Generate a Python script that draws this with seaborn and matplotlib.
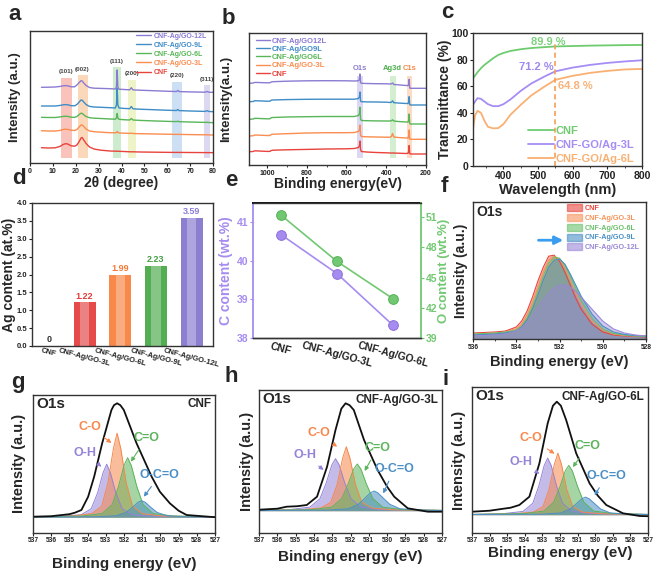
import numpy as np
import pandas as pd
import matplotlib
matplotlib.use("Agg")
import matplotlib.pyplot as plt
import seaborn as sns
from matplotlib.lines import Line2D
from matplotlib.patches import Patch
from matplotlib.ticker import MultipleLocator, FormatStrFormatter

# ---------------- data ----------------
# a: XRD
XRD_LABELS = ['CNF', 'CNF-Ag/GO-3L', 'CNF-Ag/GO-6L', 'CNF-Ag/GO-9L', 'CNF-Ag/GO-12L']
XRD_2T = [5, 8, 11, 13, 14.5, 15.5, 16.5, 18, 19.5, 20.5, 21.5, 22.3, 22.8, 23.5, 24.5, 26, 28, 31, 35,
          37.3, 37.8, 38.1, 38.4, 38.9, 41, 43.6, 44.3, 45, 48, 55, 62, 64.1, 64.6, 65.2, 70, 76.5, 77.4, 78.3, 80]
XRD_CNF = [15.3, 15, 15.2, 16.5, 18.5, 19.3, 19, 17.2, 16.8, 18, 21.5, 25, 25.5, 23, 19.5, 16, 14, 12.8, 12,
           11.8, 11.8, 11.8, 11.8, 11.7, 11.5, 11.2, 11.2, 11.2, 11, 10.8, 10.6, 10.6, 10.6, 10.6, 10.5, 10.4, 10.4, 10.4, 10.3]
XRD_3L = [32.3, 32, 32, 32.5, 33.5, 33.8, 33.6, 32.8, 32.5, 33.5, 36, 38, 38, 36.5, 34, 32, 31.3, 30.8, 30.3,
          30.2, 30.5, 31.5, 30.5, 30.1, 29.8, 29.6, 29.8, 29.5, 29.3, 29, 28.7, 28.6, 28.7, 28.6, 28.4, 28.2, 28.2, 28.1, 28]
XRD_6L = [45.7, 45.5, 45.5, 46, 46.6, 46.8, 46.6, 45.8, 45.6, 46.5, 48.5, 49.8, 49.6, 48.2, 46.5, 45.3, 44.8, 44.5, 44,
          43.8, 45, 49.5, 45, 43.7, 43.3, 43, 44.5, 43, 42.6, 42, 41.5, 41.4, 41.8, 41.3, 41, 40.6, 40.7, 40.5, 40.3]
XRD_9L = [57, 57, 57, 57.5, 58.2, 58.4, 58.2, 57.3, 57.2, 58.5, 61, 63, 62.8, 61, 58.5, 56.6, 56, 55.7, 55.3,
          55, 58, 74.5, 58, 55, 54.6, 54.3, 56.5, 54.2, 53.8, 53.2, 52.6, 52.5, 53.5, 52.4, 52, 51.6, 52.3, 51.5, 51.3]
XRD_12L = [75.7, 75.8, 76, 76.5, 77.2, 77.4, 77.2, 76.2, 76.2, 78, 80.5, 82.3, 82, 80, 77.5, 75.5, 74.8, 74.6, 74.3,
           74, 76, 93, 76, 73.8, 73.5, 73.2, 75.3, 73.1, 72.8, 72.2, 71.6, 71.5, 72.6, 71.4, 71.1, 70.8, 71.5, 70.7, 70.7]
XRD_PLANES = ['(101)', '(002)', '(111)', '(200)', '(220)', '(311)']
XRD_BANDS = [(13.5, 18.4), (20.8, 25.2), (36.4, 39.7), (43.0, 46.3), (62.2, 66.3), (76.0, 78.7)]

# b: XPS survey
SUR_LABELS = ['CNF', 'CNF-Ag/GO-3L', 'CNF-Ag/GO6L', 'CNF-Ag/GO9L', 'CNF-Ag/GO12L']
SUR_BE = [1085, 1070, 1060, 1000, 985, 978, 970, 900, 800, 700, 600, 560, 540, 535, 532, 529, 525, 500, 450, 400,
          380, 374, 368, 362, 340, 300, 290, 287, 284.5, 282, 278, 250, 200]
SUR_CNF = [13.3, 13.5, 14.2, 13.6, 13.6, 14.5, 14.8, 15.2, 15.6, 16, 16.2, 16.5, 17.5, 19, 24, 15.5, 13.5, 13, 12.5, 12.2,
           12, 12, 12, 12, 11.8, 11.5, 11.8, 14, 19.5, 11.5, 11, 11, 11]
SUR_3L = [29, 29.3, 30, 29.5, 29.5, 30.5, 30.8, 31.3, 32, 32.3, 32.3, 32.5, 33.5, 35, 40, 30, 28.5, 28.2, 28, 27.8,
          27.8, 28.5, 31.5, 28, 27.5, 27, 27, 29, 35, 26, 25.7, 25.7, 25.7]
SUR_6L = [45.7, 46, 46.7, 46.2, 46.2, 47.3, 47.5, 48, 48.3, 48.5, 48.5, 48.5, 49.5, 51, 57.7, 46, 44.5, 44.3, 44.1, 44,
          44, 44.3, 45.2, 44, 43.5, 43, 43, 45, 51, 41.5, 41, 41, 41]
SUR_9L = [63.3, 63.5, 64.3, 63.8, 63.8, 64.8, 65, 65.4, 65.7, 65.8, 65.8, 65.8, 66.5, 68, 73, 64, 63.3, 63.1, 63, 62.8,
          62.5, 62.8, 64.2, 62.3, 62, 61.5, 61.5, 63.5, 68.3, 60.3, 60, 60, 60]
SUR_12L = [81.7, 82, 82.6, 82.2, 82.2, 83, 83.3, 83.8, 84.2, 84.3, 84.2, 84, 84.2, 85.5, 91, 82.5, 81.7, 81.5, 81.3, 81.2,
           81, 81.2, 82, 80.5, 80.2, 79.5, 79.5, 81, 85.7, 77, 76.7, 76.7, 76.7]
SUR_PEAKS = ['O1s', 'Ag3d', 'C1s']
SUR_BANDS = [(545, 515), (382, 352), (298, 268)]

# c: transmittance
UV_WL = [312, 318, 325, 335, 345, 355, 370, 385, 400, 420, 450, 480, 520, 550, 600, 650, 700, 750, 800]
UV_CNF = [66, 68, 70.5, 73.5, 76, 78, 81, 83.5, 85, 86.5, 87.8, 88.7, 89.4, 89.9, 90.2, 90.5, 90.7, 90.9, 91]
UV_3L = [46, 48.5, 51, 50.5, 48.5, 46.5, 45, 45, 46.5, 50, 56.5, 62, 67.5, 71.2, 74, 76, 77.5, 78.6, 79.5]
UV_6L = [28, 38, 41.5, 40, 34, 29.5, 28.3, 28.5, 31.5, 38.5, 46, 53, 60, 64.8, 67.8, 70, 71.5, 72.6, 73]
UV_LABELS = ['CNF', 'CNF-GO/Ag-3L', 'CNF-GO/Ag-6L']
REF_WL = 550
UV_AT_REF = ['89.9 %', '71.2 %', '64.8 %']

# d: Ag content
D_SAMPLES = ['CNF', 'CNF-Ag/GO-3L', 'CNF-Ag/GO-6L', 'CNF-Ag/GO-9L', 'CNF-Ag/GO-12L']
D_AG = [0, 1.22, 1.99, 2.23, 3.59]

# e: C and O content
E_SAMPLES = ['CNF', 'CNF-Ag/GO-3L', 'CNF-Ag/GO-6L']
E_C = [40.68, 39.67, 38.33]
E_O = [51.2, 46.6, 42.9]

# f: O1s overlay
F_LABELS = ['CNF', 'CNF-Ag/GO-3L', 'CNF-Ag/GO-6L', 'CNF-Ag/GO-9L', 'CNF-Ag/GO-12L']
F_BE = [536, 535.5, 535, 534.5, 534, 533.75, 533.5, 533.25, 533, 532.75, 532.5, 532.25, 532, 531.75, 531.5,
        531.25, 531, 530.5, 530, 529.5, 529, 528.5, 528]
F_CNF = [6, 6.5, 7, 8, 12, 18, 28, 42, 58, 72, 83, 84, 78, 67, 54, 41, 30, 15, 7, 4, 3, 2.5, 2]
F_3L = [5, 5.5, 6, 7, 10, 15, 24, 37, 52, 67, 79, 83, 80, 71, 59, 46, 35, 18, 9, 5, 3.5, 3, 2.5]
F_6L = [5, 5.5, 6, 7, 9, 13, 21, 33, 48, 63, 76, 82, 81, 74, 63, 51, 39, 21, 10, 5.5, 4, 3, 2.5]
F_9L = [4, 4.5, 5, 6, 8, 12, 19, 30, 44, 59, 72, 79, 80, 75, 65, 54, 43, 25, 13, 7, 4.5, 3.5, 3]
F_12L = [3, 3.5, 4, 5, 8, 11, 16, 23, 31, 39, 46, 51, 54, 54, 52, 48, 42, 30, 18, 10, 6, 4, 3]

# g: O1s fit, CNF
G_ENV_E = [537, 536, 535, 534.7, 534.34, 533.97, 533.64, 533.2, 532.69, 532.55, 532.38, 532.2, 532.01, 531.31,
           530.48, 530.03, 529.48, 529.0, 528.56, 527]
G_ENV_I = [16, 16.5, 18.5, 20, 22.7, 36, 56, 89.4, 122.7, 127.5, 129.4, 127.5, 122.7, 89.4, 56, 41, 29.4, 22, 17.7, 15.5]
G_OH_E = [537, 535.45, 534.35, 533.8, 533.45, 533.15, 532.95, 532.75, 532.45, 532.1, 531.55, 530.45, 527]
G_OH_I = [15.8, 16.4, 18.0, 24.0, 39.9, 60.0, 68.5, 60.0, 39.9, 24.0, 18.0, 16.4, 15.8]
G_CO_E = [537, 534.88, 533.78, 533.23, 532.88, 532.58, 532.38, 532.18, 531.88, 531.53, 530.98, 529.88, 527]
G_CO_I = [15.8, 16.7, 19.0, 26.4, 49.9, 84.4, 99.5, 84.4, 49.9, 26.4, 19.0, 16.7, 15.8]
G_CDO_E = [537, 534.3, 533.2, 532.65, 532.3, 532.0, 531.8, 531.6, 531.3, 530.95, 530.4, 529.3, 527]
G_CDO_I = [15.9, 16.7, 19.2, 28.0, 46.4, 67.3, 75.0, 67.3, 46.4, 28.0, 19.2, 16.7, 15.9]
G_OCO_E = [537, 533.53, 532.43, 531.88, 531.53, 531.23, 531.03, 530.83, 530.53, 530.18, 529.63, 528.53, 527]
G_OCO_I = [15.6, 15.9, 16.9, 20.3, 25.4, 30.4, 32.0, 30.4, 25.4, 20.3, 16.9, 15.9, 15.6]

# h: O1s fit, CNF-Ag/GO-3L
H_ENV_E = [537, 536, 535.49, 534.9, 534.39, 533.83, 533.28, 532.82, 532.5, 532.27, 532.05, 531.82, 531.26, 530.52,
           530.0, 529.61, 528.87, 527.77, 527]
H_ENV_I = [23, 24, 26, 26.5, 27.7, 36, 66, 102.7, 124, 129.4, 127.5, 122.7, 92.7, 62.7, 46, 36, 24.4, 21, 21]
H_OH_E = [537, 535.32, 534.22, 533.67, 533.32, 533.02, 532.82, 532.62, 532.32, 531.97, 531.42, 530.32, 527]
H_OH_I = [22.3, 23.1, 25.6, 34.0, 50.1, 67.8, 74.0, 67.8, 50.1, 34.0, 25.6, 23.1, 22.3]
H_CO_E = [537, 534.73, 533.63, 533.08, 532.73, 532.43, 532.23, 532.03, 531.73, 531.38, 530.83, 529.73, 527]
H_CO_I = [22.3, 22.9, 24.7, 30.3, 48.2, 74.5, 86.0, 74.5, 48.2, 30.3, 24.7, 22.9, 22.3]
H_CDO_E = [537, 534.13, 533.03, 532.48, 532.13, 531.83, 531.63, 531.43, 531.13, 530.78, 530.23, 529.13, 527]
H_CDO_I = [22.3, 23.1, 25.5, 34.1, 48.6, 63.6, 68.7, 63.6, 48.6, 34.1, 25.5, 23.1, 22.3]
H_OCO_E = [537, 533.21, 532.11, 531.56, 531.21, 530.91, 530.71, 530.51, 530.21, 529.86, 529.31, 528.21, 527]
H_OCO_I = [22.2, 22.6, 24.0, 28.5, 34.6, 39.9, 41.7, 39.9, 34.6, 28.5, 24.0, 22.6, 22.2]

# i: O1s fit, CNF-Ag/GO-6L
I_ENV_E = [537, 536, 535.45, 534.8, 534.31, 533.74, 533.17, 532.7, 532.4, 532.18, 531.95, 531.65, 531.08, 530.32,
           529.85, 529.37, 528.42, 527.47, 527]
I_ENV_I = [21, 22, 23.4, 25, 27.7, 36, 69.4, 109.4, 127, 131, 127, 112.7, 79.4, 49.4, 37, 27.7, 19.4, 16.7, 16.5]
I_OH_E = [537, 535.2, 534.1, 533.55, 533.2, 532.9, 532.7, 532.5, 532.2, 531.85, 531.3, 530.2, 527]
I_OH_I = [18.3, 19.1, 21.3, 29.3, 46.9, 67.2, 74.6, 67.2, 46.9, 29.3, 21.3, 19.1, 18.3]
I_CO_E = [537, 534.62, 533.52, 532.97, 532.62, 532.32, 532.12, 531.92, 531.62, 531.27, 530.72, 529.62, 527]
I_CO_I = [18.2, 18.9, 20.6, 26.0, 43.3, 68.5, 79.6, 68.5, 43.3, 26.0, 20.6, 18.9, 18.2]
I_CDO_E = [537, 534.0, 532.9, 532.35, 532.0, 531.7, 531.5, 531.3, 531.0, 530.65, 530.1, 529.0, 527]
I_CDO_I = [18.3, 19.2, 21.7, 30.8, 46.1, 61.9, 67.3, 61.9, 46.1, 30.8, 21.7, 19.2, 18.3]
I_OCO_E = [537, 533.05, 531.95, 531.4, 531.05, 530.75, 530.55, 530.35, 530.05, 529.7, 529.15, 528.05, 527]
I_OCO_I = [18.2, 18.5, 19.8, 23.8, 29.3, 34.0, 35.6, 34.0, 29.3, 23.8, 19.8, 18.5, 18.2]
COMP_NAMES = ['O-H', 'C-O', 'C=O', 'O-C=O']

# ---------------- style ----------------
sns.set_style("ticks")
plt.rcParams['font.family'] = ['Liberation Sans', 'DejaVu Sans']
plt.rcParams['font.weight'] = 'bold'
plt.rcParams['axes.labelweight'] = 'bold'
plt.rcParams['axes.linewidth'] = 1.0
plt.rcParams['axes.edgecolor'] = '#333333'

RED, ORANGE, GREEN, BLUE, PURPLE = '#e8433c', '#fb8d50', '#58b658', '#3f8cc6', '#8b7bd3'
SERIES_COLORS = [RED, ORANGE, GREEN, BLUE, PURPLE]
C_PURPLE, C_GREEN = '#a68cf0', '#72c872'
COMP_COLORS = ['#9483d8', '#f7874c', '#5cb45c', '#4b8fc6']

W, H = 661, 578
fig = plt.figure(figsize=(W / 100, H / 100), dpi=100)


def px_axes(l, t, r, b):
    return fig.add_axes([l / W, 1 - b / H, (r - l) / W, (b - t) / H])


def style_ax(ax, size=5):
    ax.tick_params(axis='both', which='major', labelsize=size, length=2.2, width=0.8, pad=1.2,
                   colors='#222222')
    ax.tick_params(axis='both', which='minor', length=1.4, width=0.6)
    for s in ax.spines.values():
        s.set_linewidth(1.0)
        s.set_color('#333333')


def letter(x, y, s):
    fig.text(x / W, 1 - y / H, s, fontsize=16, fontweight='bold', va='baseline', ha='left')


# ---------------- a: XRD ----------------
ax = px_axes(30, 31, 213, 163)
band_cols = ['#f9c3bb', '#fcd8bb', '#cdeccd', '#eff4c8', '#cde0f3', '#ddd8f1']
band_tops = [85, 88, 96, 83, 81, 78]
for (lo, hi), top, col, lab in zip(XRD_BANDS, band_tops, band_cols, XRD_PLANES):
    ax.axvspan(lo, hi, ymin=5 / 132, ymax=top / 132, color=col, lw=0)
    ax.text((lo + hi) / 2, top + 6, lab, ha='center', va='center', fontsize=4.5, color='#444444')
for ys, col in zip([XRD_CNF, XRD_3L, XRD_6L, XRD_9L, XRD_12L], SERIES_COLORS):
    sns.lineplot(x=XRD_2T, y=ys, color=col, lw=1.0, ax=ax)
hs = [Line2D([], [], color=c, lw=1.0) for c in SERIES_COLORS][::-1]
ax.legend(hs, XRD_LABELS[::-1], loc='upper right', bbox_to_anchor=(1.0, 1.035), frameon=False,
          fontsize=5, labelcolor=SERIES_COLORS[::-1], handlelength=2.2, handletextpad=0.3, labelspacing=0.3)
ax.set_xlim(0, 80)
ax.set_ylim(0, 132)
ax.set_yticks([])
ax.xaxis.set_major_locator(MultipleLocator(10))
style_ax(ax)
ax.set_xlabel('2θ (degree)', fontsize=10)
ax.xaxis.set_label_coords(0.5, -0.1)
ax.set_ylabel('Intensity (a.u.)', fontsize=9.5)
ax.yaxis.set_label_coords(-0.05, 0.5)
letter(8, 20, 'a')

# ---------------- b: XPS survey ----------------
ax = px_axes(249, 33, 426, 165)
sur_band_cols = ['#dcd7f2', '#d4efd0', '#fcdcc4']
sur_text_cols = ['#8a7fd0', '#4cae4c', '#f58a4a']
for (hi, lo), col, tcol, lab in zip(SUR_BANDS, sur_band_cols, sur_text_cols, SUR_PEAKS):
    ax.axvspan(lo, hi, ymin=7 / 132, ymax=89 / 132, color=col, lw=0)
    ax.text((lo + hi) / 2, 96, lab, ha='center', va='center', fontsize=5.5, color=tcol)
for ys, col in zip([SUR_CNF, SUR_3L, SUR_6L, SUR_9L, SUR_12L], SERIES_COLORS):
    sns.lineplot(x=SUR_BE, y=ys, color=col, lw=1.0, ax=ax)
ax.legend(hs, SUR_LABELS[::-1], loc='upper left', bbox_to_anchor=(0.0, 1.02), frameon=False,
          fontsize=5.5, labelcolor=SERIES_COLORS[::-1], handlelength=1.8, handletextpad=0.3, labelspacing=0.12)
ax.set_xlim(1090, 200)
ax.set_ylim(0, 132)
ax.set_yticks([])
ax.set_xticks([1000, 800, 600, 400, 200])
ax.xaxis.set_minor_locator(MultipleLocator(100))
style_ax(ax)
ax.set_xlabel('Binding energy(eV)', fontsize=10)
ax.xaxis.set_label_coords(0.5, -0.092)
ax.set_ylabel('Intensity(a.u.)', fontsize=9.5)
ax.yaxis.set_label_coords(-0.096, 0.5)
letter(222, 24, 'b')

# ---------------- c: transmittance ----------------
ax = px_axes(473, 33, 642, 166)
uv_cols = ['#6fcb6f', '#a68cf5', '#f9b073']
for ys, col in zip([UV_CNF, UV_3L, UV_6L], uv_cols):
    sns.lineplot(x=UV_WL, y=ys, color=col, lw=1.3, ax=ax)
ax.axvline(REF_WL, ymax=0.92, ls='--', color='#f3a055', lw=1.2, dashes=(3, 2))
ax.text(528, 93.5, UV_AT_REF[0], color='#7fd17f', fontsize=8, ha='center', va='center')
ax.text(546, 74.7, UV_AT_REF[1], color='#9f88f0', fontsize=8, ha='right', va='center')
ax.text(557, 60, UV_AT_REF[2], color='#f9b27a', fontsize=8, ha='left', va='center')
hs_c = [Line2D([], [], color=c, lw=1.3) for c in uv_cols]
ax.legend(hs_c, UV_LABELS, loc='lower right', bbox_to_anchor=(1.0, -0.04), frameon=False, fontsize=8,
          labelcolor=uv_cols, handlelength=2.4, handletextpad=0.1, labelspacing=0.35, borderpad=0.2)
ax.set_xlim(312, 800)
ax.set_ylim(0, 100)
ax.set_xticks([400, 500, 600, 700, 800])
ax.xaxis.set_minor_locator(MultipleLocator(50))
ax.set_yticks([0, 20, 40, 60, 80, 100])
style_ax(ax, 7.5)
ax.set_xlabel('Wavelength (nm)', fontsize=10.5)
ax.xaxis.set_label_coords(0.5, -0.125)
ax.set_ylabel('Transmittance (%)', fontsize=10)
ax.yaxis.set_label_coords(-0.124, 0.5)
letter(441, 18, 'c')

# ---------------- d: Ag content ----------------
ax = px_axes(32, 203, 213, 346)
d_cols = ['#e54b4b', '#e54b4b', '#f8894b', '#53ad53', '#8d7fd0']
sns.barplot(x=D_SAMPLES, y=D_AG, hue=D_SAMPLES, palette=d_cols, legend=False, width=0.62,
            saturation=1, ax=ax, edgecolor='none')
ax.bar(range(len(D_AG)), D_AG, width=0.26, color='white', alpha=0.3, lw=0)
lab_cols = ['#333333', '#e03c3c', '#f47a38', '#43a043', '#8a7dd6']
for i, (v, c) in enumerate(zip(D_AG, lab_cols)):
    ax.text(i, v + 0.05, '0' if v == 0 else f'{v:.2f}', ha='center', va='bottom', fontsize=6.5, color=c)
ax.set_xlim(-0.48, 4.6)
ax.set_ylim(0, 4.0)
ax.yaxis.set_major_locator(MultipleLocator(0.5))
ax.yaxis.set_major_formatter(FormatStrFormatter('%.1f'))
ax.set_xticks(range(len(D_SAMPLES)))
ax.set_xticklabels(D_SAMPLES, rotation=-15, ha='center', fontsize=6.3)
style_ax(ax, 5.5)
ax.tick_params(axis='x', length=0, pad=1)
ax.set_xlabel('')
ax.set_ylabel('Ag content (at.%)', fontsize=10)
ax.yaxis.set_label_coords(-0.088, 0.5)
letter(12, 184, 'd')

# ---------------- e: C / O content ----------------
ax = px_axes(253, 203, 421, 338)
sns.lineplot(x=E_SAMPLES, y=E_C, color=C_PURPLE, marker='o', markersize=7, lw=1.2,
             markeredgecolor='#8f73dc', ax=ax)
ax.set_xlim(-0.5, 2.5)
ax.set_ylim(38, 41.5)
ax.set_yticks([38, 39, 40, 41])
ax2 = ax.twinx()
sns.lineplot(x=E_SAMPLES, y=E_O, color=C_GREEN, marker='o', markersize=7, lw=1.2,
             markeredgecolor='#56b456', ax=ax2)
ax2.set_ylim(39, 52.4)
ax2.set_yticks([39, 42, 45, 48, 51])
ax.set_xticks([0, 1, 2])
ax.set_xticklabels(E_SAMPLES, rotation=-15, ha='center', fontsize=8)
style_ax(ax, 7.5)
style_ax(ax2, 7.5)
ax.tick_params(axis='x', length=0, pad=2)
ax.tick_params(axis='y', colors=C_PURPLE)
ax2.tick_params(axis='y', colors=C_GREEN)
ax.spines['left'].set_color(C_PURPLE)
ax.spines['left'].set_linewidth(1.3)
ax2.spines['right'].set_color(C_GREEN)
ax2.spines['right'].set_linewidth(1.3)
ax2.spines['left'].set_visible(False)
ax.spines['right'].set_visible(False)
ax.spines['top'].set_color('#111111')
ax.spines['top'].set_linewidth(1.4)
ax.set_xlabel('')
ax.set_ylabel('C content (wt.%)', fontsize=10, color=C_PURPLE)
ax.yaxis.set_label_coords(-0.119, 0.5)
ax2.set_ylabel('O content (wt.%)', fontsize=9.5, color=C_GREEN)
ax2.yaxis.set_label_coords(1.10, 0.5)
letter(225, 186, 'e')

# ---------------- f: O1s overlay ----------------
ax = px_axes(473, 202, 646, 339)
f_cols = ['#e8443c', '#f7935a', '#6cc06c', '#4a90c4', '#9a88d6']
for ys, col in zip([F_CNF, F_3L, F_6L, F_9L, F_12L], f_cols):
    ax.fill_between(F_BE, ys, 0, color=col, alpha=0.45, lw=0)
    sns.lineplot(x=F_BE, y=ys, color=col, lw=0.8, ax=ax)
ph = [Patch(facecolor=c, alpha=0.6, edgecolor=c) for c in f_cols]
ax.legend(ph, F_LABELS, loc='upper right', bbox_to_anchor=(1.0, 1.03), frameon=False, fontsize=5.2,
          labelcolor=f_cols, handlelength=2.1, handleheight=1.1, handletextpad=0.3, labelspacing=0.25)
ax.annotate('', xy=(531.7, 99), xytext=(533.1, 99),
            arrowprops=dict(arrowstyle='-|>', color='#3a9df0', lw=2, mutation_scale=12))
ax.text(0.02, 0.975, 'O1s', transform=ax.transAxes, fontsize=10, va='top', ha='left')
ax.set_xlim(536, 528)
ax.set_ylim(0, 137.3)
ax.set_yticks([])
ax.set_xticks([536, 534, 532, 530, 528])
ax.xaxis.set_minor_locator(MultipleLocator(1))
style_ax(ax, 4.8)
ax.set_xlabel('Binding energy (eV)', fontsize=10.5)
ax.xaxis.set_label_coords(0.5, -0.115)
ax.set_ylabel('Intensity (a.u.)', fontsize=10)
ax.yaxis.set_label_coords(-0.028, 0.5)
letter(441, 192, 'f')


# ---------------- g, h, i: O1s fits ----------------
def xps_fit(box, env_e, env_i, comps, base, sample, notes, xlab_y, ylab_x, let):
    l, t, r, b = box
    axx = px_axes(l, t, r, b)
    for (ce, ci), col in zip(comps, COMP_COLORS):
        axx.fill_between(ce, ci, base, color=col, alpha=0.55, lw=0)
        sns.lineplot(x=ce, y=ci, color=col, lw=0.7, ax=axx)
    sns.lineplot(x=env_e, y=env_i, color='#111111', lw=1.3, ax=axx)
    for name, col, txt, tip in notes:
        axx.annotate(name, xy=tip, xytext=txt, color=col, fontsize=9, ha='center', va='center',
                     arrowprops=dict(arrowstyle='-|>', color=col, lw=0.8, mutation_scale=6,
                                     shrinkA=2, shrinkB=0))
    axx.text(0.02, 0.985, 'O1s', transform=axx.transAxes, fontsize=11, va='top', ha='left')
    axx.text(0.98, 0.975, sample, transform=axx.transAxes, fontsize=8.5, va='top', ha='right')
    axx.set_xlim(537, 527)
    axx.set_ylim(0, b - t)
    axx.set_yticks([])
    axx.xaxis.set_major_locator(MultipleLocator(1))
    style_ax(axx, 4.8)
    axx.set_xlabel('Binding energy (eV)', fontsize=11)
    axx.xaxis.set_label_coords(0.5, xlab_y)
    axx.set_ylabel('Intensity (a.u.)', fontsize=10.5)
    axx.yaxis.set_label_coords(ylab_x, 0.5)
    letter(let[1], let[2], let[0])
    return axx


xps_fit((33, 395, 215, 532.7), G_ENV_E, G_ENV_I,
        [(G_OH_E, G_OH_I), (G_CO_E, G_CO_I), (G_CDO_E, G_CDO_I), (G_OCO_E, G_OCO_I)], 15.5, 'CNF',
        [(COMP_NAMES[1], COMP_COLORS[1], (533.88, 106), (532.69, 89.7)),
         (COMP_NAMES[0], COMP_COLORS[0], (534.15, 79.7), (533.24, 66)),
         (COMP_NAMES[2], COMP_COLORS[2], (530.76, 94.7), (531.62, 71)),
         (COMP_NAMES[3], COMP_COLORS[3], (530.03, 57.7), (530.91, 36))],
        -0.174, -0.038, ('g', 11, 388))

xps_fit((259, 390, 442, 532.7), H_ENV_E, H_ENV_I,
        [(H_OH_E, H_OH_I), (H_CO_E, H_CO_I), (H_CDO_E, H_CDO_I), (H_OCO_E, H_OCO_I)], 22, 'CNF-Ag/GO-3L',
        [(COMP_NAMES[1], COMP_COLORS[1], (533.75, 99.3), (532.73, 86)),
         (COMP_NAMES[0], COMP_COLORS[0], (534.48, 77.7), (533.47, 62.7)),
         (COMP_NAMES[2], COMP_COLORS[2], (530.52, 84.3), (531.23, 61.7)),
         (COMP_NAMES[3], COMP_COLORS[3], (529.61, 63.3), (530.21, 39.3))],
        -0.12, -0.027, ('h', 224, 382))

xps_fit((472, 387.3, 648, 532.7), I_ENV_E, I_ENV_I,
        [(I_OH_E, I_OH_I), (I_CO_E, I_CO_I), (I_CDO_E, I_CDO_I), (I_OCO_E, I_OCO_I)], 18, 'CNF-Ag/GO-6L',
        [(COMP_NAMES[1], COMP_COLORS[1], (533.64, 94.6), (532.31, 79)),
         (COMP_NAMES[0], COMP_COLORS[0], (534.21, 70.6), (533.17, 59)),
         (COMP_NAMES[2], COMP_COLORS[2], (530.42, 86.3), (531.27, 65.6)),
         (COMP_NAMES[3], COMP_COLORS[3], (529.37, 56.6), (530.03, 37.3))],
        -0.089, -0.034, ('i', 442, 385))

fig.savefig('out.png', dpi=100)
